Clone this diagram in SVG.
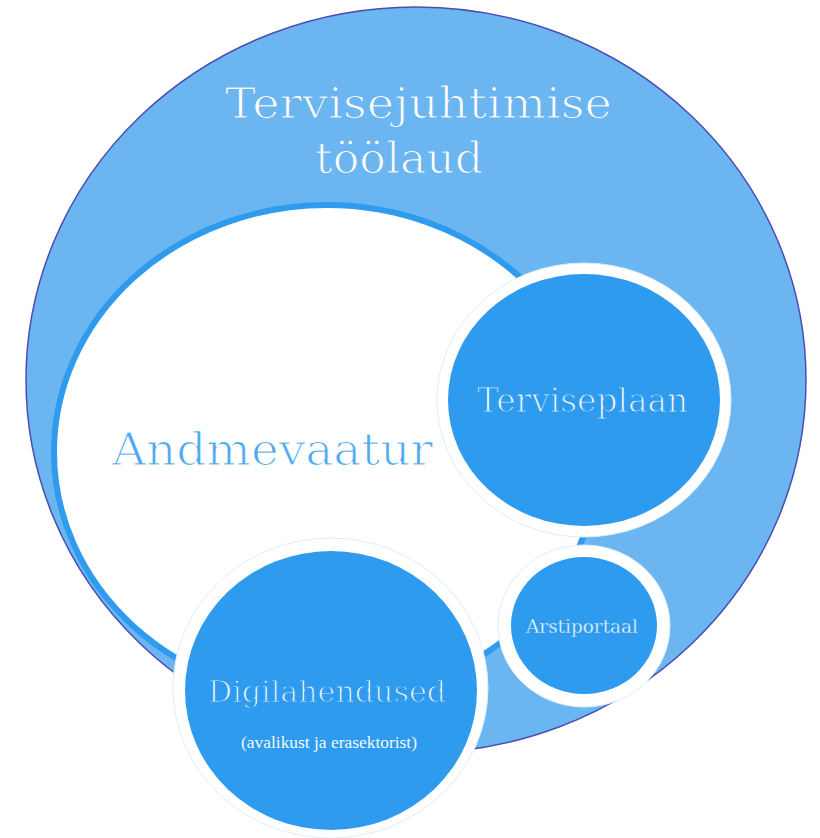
<svg xmlns="http://www.w3.org/2000/svg" width="820" height="838" viewBox="0 0 820 838">
  <style>
    .slab { font-family: "DejaVu Serif", "Liberation Serif", serif; }
    .ring { fill: #FFFFFF; stroke: #DDEEFC; stroke-width: 1; }
    .core { fill: #2E9BEE; }
    .wtxt { fill: #F2F9FF; stroke: #2E9BEE; stroke-width: 1.2; paint-order: normal; }
  </style>
  <rect width="820" height="838" fill="#FFFFFF"/>
  <g id="tervisejuhtimise">
    <ellipse cx="416" cy="380" rx="390" ry="373" fill="#6BB5F0" stroke="#4A4EB2" stroke-width="1.5"/>
    <text class="slab" x="225" y="118" font-size="42" textLength="387" lengthAdjust="spacingAndGlyphs" fill="#FFFFFF" stroke="#6BB5F0" stroke-width="1.2">Tervisejuhtimise</text>
    <text class="slab" x="315" y="173" font-size="42" textLength="168" lengthAdjust="spacingAndGlyphs" fill="#FFFFFF" stroke="#6BB5F0" stroke-width="1.2">töölaud</text>
  </g>
  <g id="andmevaatur">
    <ellipse cx="327" cy="452" rx="273" ry="247" fill="#FFFFFF" stroke="#2E9BEE" stroke-width="6"/>
    <text class="slab" x="112" y="465" font-size="44" textLength="321" lengthAdjust="spacingAndGlyphs" fill="#4FAAF0" stroke="#FFFFFF" stroke-width="1.2">Andmevaatur</text>
  </g>
  <g id="terviseplaan">
    <ellipse class="ring" cx="584" cy="400" rx="147" ry="137"/>
    <ellipse class="core" cx="584" cy="400" rx="136" ry="126"/>
    <text class="slab wtxt" x="477" y="412" font-size="34" textLength="211" lengthAdjust="spacingAndGlyphs">Terviseplaan</text>
  </g>
  <g id="arstiportaal">
    <ellipse class="ring" cx="584" cy="626" rx="86" ry="81"/>
    <ellipse class="core" cx="584" cy="625.5" rx="73" ry="68.5"/>
    <text class="slab" x="526" y="633" font-size="19" textLength="112" lengthAdjust="spacingAndGlyphs" fill="#F2F9FF" stroke="#2E9BEE" stroke-width="0.35">Arstiportaal</text>
  </g>
  <g id="digilahendused">
    <ellipse class="ring" cx="330.5" cy="688" rx="157.5" ry="150"/>
    <ellipse class="core" cx="331" cy="690.5" rx="146" ry="139.5"/>
    <text class="slab wtxt" x="208" y="702" font-size="30" textLength="238" lengthAdjust="spacingAndGlyphs">Digilahendused</text>
    <text x="241" y="748" font-family="Liberation Serif, serif" font-size="17" textLength="176" lengthAdjust="spacingAndGlyphs" fill="#F2F9FF">(avalikust ja erasektorist)</text>
  </g>
  <g id="connectors"/>
</svg>
